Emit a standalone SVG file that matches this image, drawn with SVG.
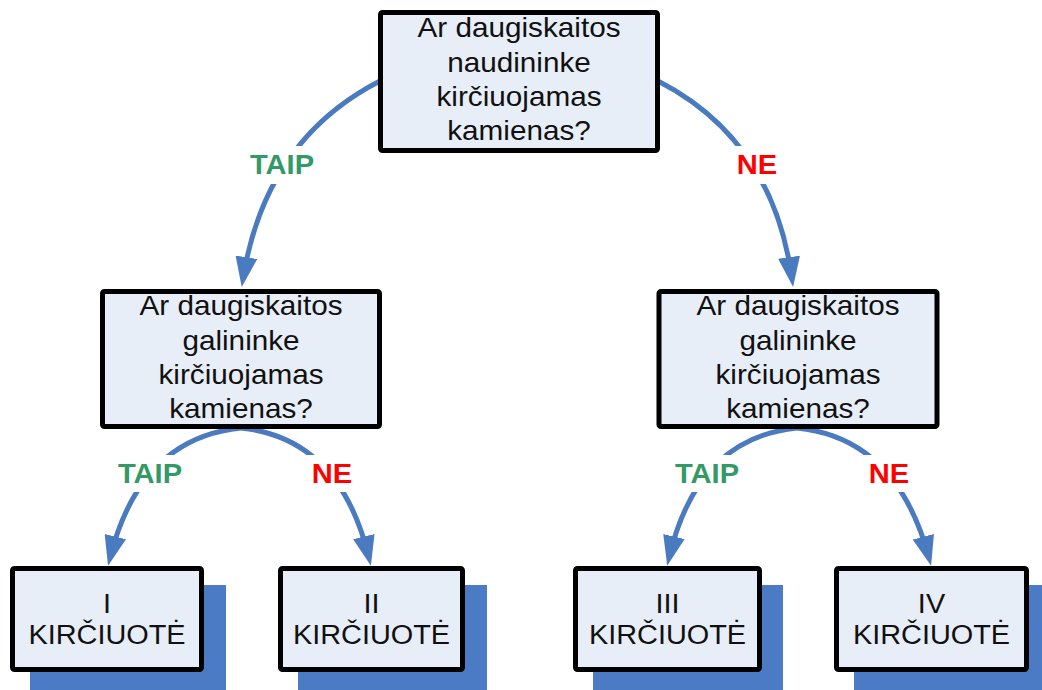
<svg xmlns="http://www.w3.org/2000/svg" width="1042" height="690" viewBox="0 0 1042 690">
<defs>
<marker id="ah" viewBox="0 0 30 22" refX="22" refY="11" markerWidth="30" markerHeight="22" markerUnits="userSpaceOnUse" orient="auto">
<path d="M0,0 L30,11 L0,22 z" fill="#4A7AC0"/>
</marker>
<style>
.box{fill:#E8EEF8;stroke:#000;stroke-width:5;}
.sh{fill:#4A7BC4;}
.t{font-family:"Liberation Sans",Arial,sans-serif;font-size:27px;fill:#111;text-anchor:middle;}
.lb{font-family:"Liberation Sans",Arial,sans-serif;font-size:28px;font-weight:bold;text-anchor:middle;}
.y{fill:#339966;}
.n{fill:#FF0000;}
.c{fill:none;stroke:#4A7AC0;stroke-width:5;marker-end:url(#ah);}
.bg{fill:#fff;}
</style>
</defs>
<rect width="1042" height="690" fill="#fff"/>
<g id="connectors">
<path class="c" d="M380,81 Q265,140 243,279"/>
<path class="c" d="M658,81 Q773,140 792,279"/>
<path class="c" d="M241,428 Q140,438 110,558"/>
<path class="c" d="M241,428 Q340,438 369,558"/>
<path class="c" d="M797,428 Q697,438 669,558"/>
<path class="c" d="M797,428 Q897,438 929,558"/>
</g>
<g id="labels">
<rect class="bg" x="244" y="146" width="78" height="38"/>
<text class="lb y" transform="translate(282,174) scale(1.04,1)">TAIP</text>
<rect class="bg" x="730" y="146" width="56" height="38"/>
<text class="lb n" transform="translate(757,174) scale(1.04,1)">NE</text>
<rect class="bg" x="111" y="455" width="78" height="37"/>
<text class="lb y" transform="translate(150,483) scale(1.04,1)">TAIP</text>
<rect class="bg" x="304" y="455" width="56" height="37"/>
<text class="lb n" transform="translate(332,483) scale(1.04,1)">NE</text>
<rect class="bg" x="668" y="455" width="78" height="37"/>
<text class="lb y" transform="translate(707,483) scale(1.04,1)">TAIP</text>
<rect class="bg" x="861" y="455" width="56" height="37"/>
<text class="lb n" transform="translate(889,483) scale(1.04,1)">NE</text>
</g>
<g id="q1">
<rect class="box" x="380.5" y="12.5" width="277" height="138" rx="2"/>
<text class="t" transform="translate(519,37) scale(1.1,1)">Ar daugiskaitos</text>
<text class="t" transform="translate(519,71.5) scale(1.1,1)">naudininke</text>
<text class="t" transform="translate(519,106) scale(1.1,1)">kirčiuojamas</text>
<text class="t" transform="translate(519,140) scale(1.1,1)">kamienas?</text>
</g>
<g id="q2">
<rect class="box" x="102.5" y="291.5" width="277" height="135" rx="2"/>
<text class="t" transform="translate(241,315) scale(1.1,1)">Ar daugiskaitos</text>
<text class="t" transform="translate(241,349.5) scale(1.1,1)">galininke</text>
<text class="t" transform="translate(241,384) scale(1.1,1)">kirčiuojamas</text>
<text class="t" transform="translate(241,418) scale(1.1,1)">kamienas?</text>
</g>
<g id="q3">
<rect class="box" x="659" y="291.5" width="278" height="135" rx="2"/>
<text class="t" transform="translate(798,315) scale(1.1,1)">Ar daugiskaitos</text>
<text class="t" transform="translate(798,349.5) scale(1.1,1)">galininke</text>
<text class="t" transform="translate(798,384) scale(1.1,1)">kirčiuojamas</text>
<text class="t" transform="translate(798,418) scale(1.1,1)">kamienas?</text>
</g>
<g id="r1">
<rect class="sh" x="30" y="585" width="196" height="107"/>
<rect class="box" x="12.5" y="568.5" width="189" height="101" rx="2"/>
<text class="t" transform="translate(107,613) scale(1.07,1)">I</text>
<text class="t" transform="translate(107,644) scale(1.07,1)">KIRČIUOTĖ</text>
</g>
<g id="r2">
<rect class="sh" x="298" y="585" width="189" height="107"/>
<rect class="box" x="280.5" y="568.5" width="182" height="101" rx="2"/>
<text class="t" transform="translate(371.5,613) scale(1.07,1)">II</text>
<text class="t" transform="translate(371.5,644) scale(1.07,1)">KIRČIUOTĖ</text>
</g>
<g id="r3">
<rect class="sh" x="593" y="585" width="190" height="107"/>
<rect class="box" x="575.5" y="568.5" width="184" height="101" rx="2"/>
<text class="t" transform="translate(667.5,613) scale(1.07,1)">III</text>
<text class="t" transform="translate(667.5,644) scale(1.07,1)">KIRČIUOTĖ</text>
</g>
<g id="r4">
<rect class="sh" x="854" y="585" width="196" height="107"/>
<rect class="box" x="836.5" y="568.5" width="190" height="101" rx="2"/>
<text class="t" transform="translate(931.5,613) scale(1.07,1)">IV</text>
<text class="t" transform="translate(931.5,644) scale(1.07,1)">KIRČIUOTĖ</text>
</g>
</svg>
